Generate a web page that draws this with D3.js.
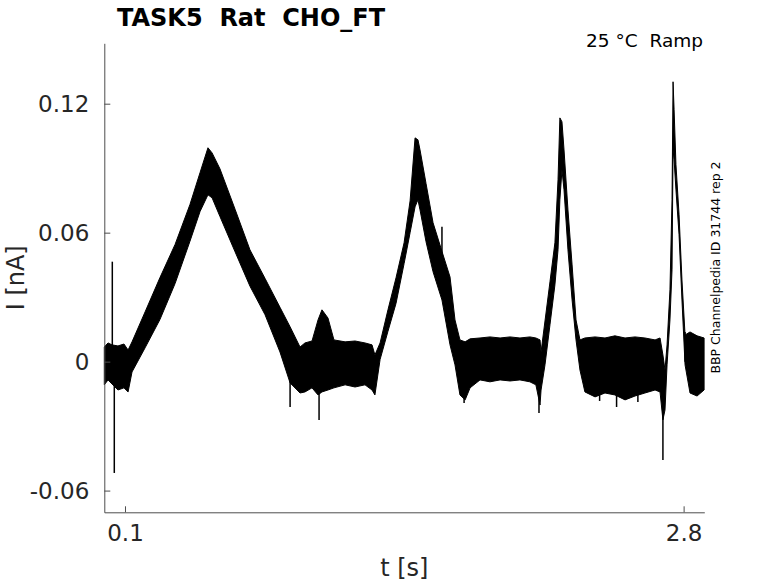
<!DOCTYPE html>
<html>
<head>
<meta charset="utf-8">
<script src="https://cdn.jsdelivr.net/npm/d3@7"></script>
<style>
  body { margin: 0; background: #fff; }
  svg text { font-family: "DejaVu Sans", sans-serif; white-space: pre; }
</style>
</head>
<body>
<div id="chart"></div>
<script>
const times = [0.000, 0.018, 0.037, 0.066, 0.095, 0.115, 0.134, 0.197, 0.269, 0.342, 0.414, 0.463, 0.501, 0.521, 0.559, 0.632, 0.704, 0.777, 0.849, 0.898, 0.946, 0.970, 1.004, 1.033, 1.052, 1.081, 1.110, 1.164, 1.212, 1.260, 1.294, 1.308, 1.333, 1.371, 1.410, 1.449, 1.478, 1.502, 1.516, 1.526, 1.555, 1.589, 1.632, 1.671, 1.695, 1.719, 1.744, 1.768, 1.816, 1.864, 1.913, 1.961, 2.009, 2.057, 2.086, 2.106, 2.111, 2.130, 2.154, 2.178, 2.193, 2.202, 2.212, 2.222, 2.241, 2.261, 2.280, 2.299, 2.323, 2.372, 2.420, 2.468, 2.517, 2.565, 2.613, 2.662, 2.686, 2.700, 2.710, 2.720, 2.734, 2.744, 2.749, 2.754, 2.763, 2.778, 2.792, 2.807, 2.831, 2.865, 2.899];
const upper = [0.0068, 0.0087, 0.0078, 0.0073, 0.0082, 0.0054, 0.0092, 0.0231, 0.0391, 0.0545, 0.0731, 0.0880, 0.0995, 0.0971, 0.0897, 0.0709, 0.0520, 0.0387, 0.0253, 0.0162, 0.0068, 0.0087, 0.0096, 0.0194, 0.0241, 0.0203, 0.0101, 0.0092, 0.0096, 0.0087, 0.0078, 0.0031, 0.0087, 0.0241, 0.0390, 0.0553, 0.0748, 0.1041, 0.1032, 0.0985, 0.0829, 0.0646, 0.0513, 0.0394, 0.0194, 0.0101, 0.0092, 0.0106, 0.0110, 0.0115, 0.0110, 0.0115, 0.0110, 0.0115, 0.0110, 0.0101, 0.0045, 0.0189, 0.0371, 0.0553, 0.0846, 0.1134, 0.1116, 0.0985, 0.0706, 0.0450, 0.0194, 0.0101, 0.0110, 0.0115, 0.0110, 0.0120, 0.0110, 0.0115, 0.0110, 0.0101, 0.0110, 0.0031, -0.0039, 0.0078, 0.0334, 0.0753, 0.1302, 0.1172, 0.0916, 0.0683, 0.0380, 0.0124, 0.0138, 0.0120, 0.0110];
const lower = [-0.0108, -0.0085, -0.0104, -0.0132, -0.0122, -0.0141, -0.0048, 0.0064, 0.0196, 0.0363, 0.0560, 0.0699, 0.0776, 0.0762, 0.0675, 0.0511, 0.0351, 0.0218, 0.0045, -0.0099, -0.0146, -0.0141, -0.0122, -0.0155, -0.0141, -0.0132, -0.0122, -0.0108, -0.0118, -0.0108, -0.0132, -0.0155, 0.0010, 0.0141, 0.0271, 0.0456, 0.0600, 0.0720, 0.0753, 0.0706, 0.0558, 0.0418, 0.0287, 0.0078, -0.0015, -0.0155, -0.0178, -0.0122, -0.0085, -0.0094, -0.0085, -0.0090, -0.0085, -0.0094, -0.0108, -0.0202, -0.0132, -0.0015, 0.0171, 0.0357, 0.0520, 0.0753, 0.0892, 0.0799, 0.0520, 0.0287, 0.0101, -0.0039, -0.0141, -0.0164, -0.0146, -0.0155, -0.0178, -0.0160, -0.0146, -0.0132, -0.0141, -0.0271, -0.0225, -0.0015, 0.0194, 0.0427, 0.0985, 0.0939, 0.0799, 0.0590, 0.0287, -0.0015, -0.0146, -0.0160, -0.0132];

// Isolated transients sticking out of the band
const spikeTimes = [0.0387, 0.0483, 0.898, 1.038, 1.632, 1.739, 2.101, 2.394, 2.476, 2.579, 2.700, 2.807];
const spikeHigh = [0.0465, 0.0000, 0.0000, -0.0050, 0.0627, 0.0000, 0.0000, -0.0050, -0.0100, -0.0100, 0.0000, 0.0000];
const spikeLow = [0.0000, -0.0518, -0.0211, -0.0271, 0.0450, -0.0192, -0.0239, -0.0183, -0.0211, -0.0188, -0.0458, 0.0138];

const xTicks = [0.1, 2.8];
const xTickLabels = ["0.1", "2.8"];
const yTicks = [0.12, 0.06, 0, -0.06];
const yTickLabels = ["0.12", "0.06", "0", "-0.06"];

const width = 778;
const height = 583;
const plotLeft = 104.3, plotRight = 704.3, plotTop = 43.3, plotBottom = 512.3;

const svg = d3.select("#chart").append("svg")
  .attr("width", width)
  .attr("height", height);

const x = d3.scaleLinear().domain([0, 2.9]).range([plotLeft, plotRight]);
const y = d3.scaleLinear().domain([-0.0701, 0.1481]).range([plotBottom, plotTop]);

const axisColor = "#4d4d4d";
const textColor = "#262626";

// trace band
const band = times.map((t, i) => ({ t: t, hi: upper[i], lo: lower[i] }));
const area = d3.area()
  .x(d => x(d.t))
  .y0(d => y(d.lo))
  .y1(d => y(d.hi));

svg.append("path")
  .datum(band)
  .attr("d", area)
  .attr("fill", "#000")
  .attr("stroke", "#000")
  .attr("stroke-width", 1);

svg.append("g")
  .selectAll("line")
  .data(spikeTimes)
  .join("line")
  .attr("x1", d => x(d))
  .attr("x2", d => x(d))
  .attr("y1", (d, i) => y(spikeHigh[i]))
  .attr("y2", (d, i) => y(spikeLow[i]))
  .attr("stroke", "#000")
  .attr("stroke-width", 1.5);

// axes (ticks pointing inwards, MATLAB style)
const xAxis = svg.append("g")
  .attr("transform", `translate(0,${plotBottom})`)
  .call(d3.axisBottom(x).tickValues(xTicks).tickSizeInner(-6).tickSizeOuter(0)
    .tickFormat((d, i) => xTickLabels[i]));
xAxis.select(".domain").attr("stroke", axisColor);
xAxis.selectAll(".tick line").attr("stroke", axisColor);
xAxis.selectAll(".tick text")
  .attr("y", 29)
  .attr("dy", 0)
  .attr("fill", textColor)
  .style("font-size", "23px")
  .style("font-family", "DejaVu Sans");

const yAxis = svg.append("g")
  .attr("transform", `translate(${plotLeft},0)`)
  .call(d3.axisLeft(y).tickValues(yTicks).tickSizeInner(-6).tickSizeOuter(0)
    .tickFormat((d, i) => yTickLabels[i]));
yAxis.select(".domain").attr("stroke", axisColor);
yAxis.selectAll(".tick line").attr("stroke", axisColor);
yAxis.selectAll(".tick text")
  .attr("x", -15)
  .attr("dy", "0.36em")
  .attr("fill", textColor)
  .style("font-size", "23px")
  .style("font-family", "DejaVu Sans");

// labels
svg.append("text")
  .attr("x", (plotLeft + plotRight) / 2)
  .attr("y", 576)
  .attr("text-anchor", "middle")
  .attr("fill", textColor)
  .style("font-size", "24px")
  .text("t [s]");

svg.append("text")
  .attr("transform", `translate(24,${(plotTop + plotBottom) / 2}) rotate(-90)`)
  .attr("text-anchor", "middle")
  .attr("fill", textColor)
  .style("font-size", "24px")
  .text("I [nA]");

svg.append("text")
  .attr("x", 117)
  .attr("y", 26)
  .attr("fill", "#000")
  .style("font-size", "24px")
  .style("font-weight", "bold")
  .text("TASK5  Rat  CHO_FT");

svg.append("text")
  .attr("x", 703)
  .attr("y", 47)
  .attr("text-anchor", "end")
  .attr("fill", "#000")
  .style("font-size", "18.5px")
  .text("25 °C  Ramp");

svg.append("text")
  .attr("transform", "translate(720,267.5) rotate(-90)")
  .attr("text-anchor", "middle")
  .attr("fill", "#000")
  .style("font-size", "12.5px")
  .text("BBP Channelpedia ID 31744 rep 2");
</script>
</body>
</html>
